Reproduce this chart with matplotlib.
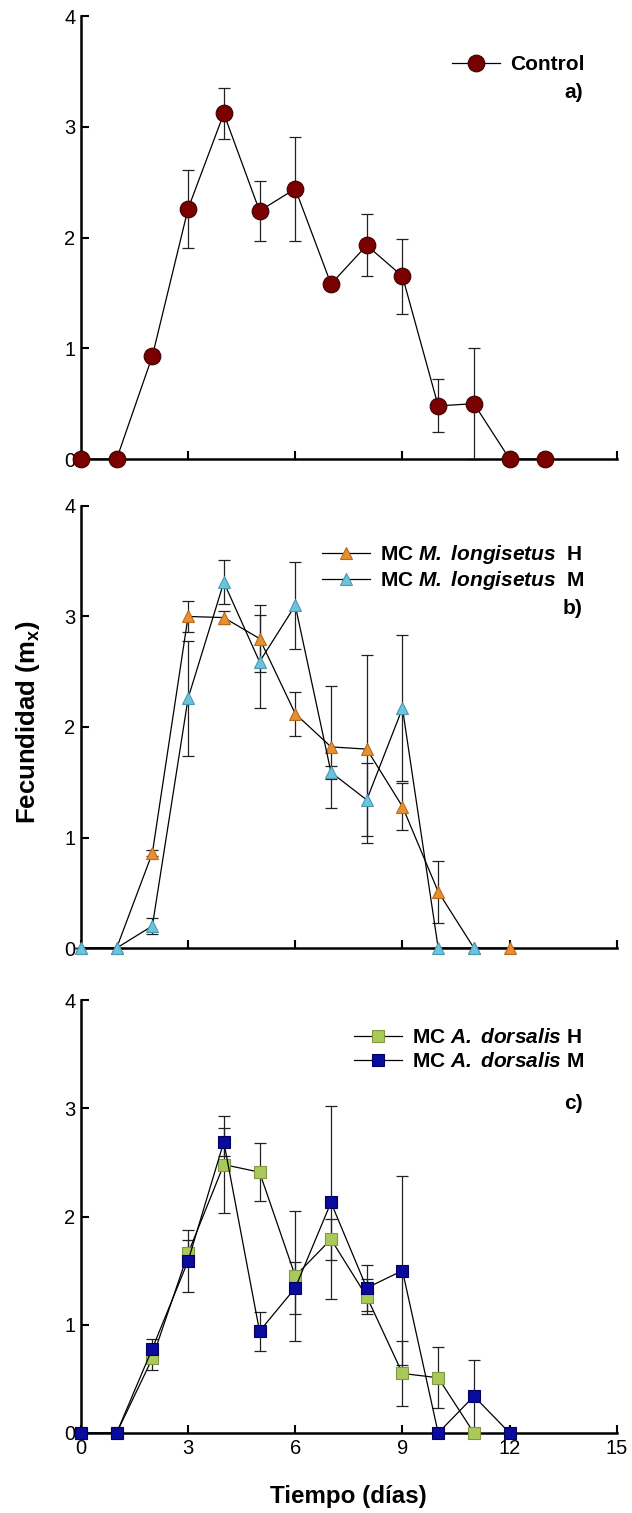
import numpy as np
import matplotlib
matplotlib.use("Agg")
import matplotlib.pyplot as plt

plt.rcParams['font.family'] = ['Liberation Sans', 'DejaVu Sans']
plt.rcParams['mathtext.fontset'] = 'custom'
plt.rcParams['mathtext.rm'] = 'Liberation Sans'
plt.rcParams['mathtext.it'] = 'Liberation Sans:italic'
plt.rcParams['mathtext.bf'] = 'Liberation Sans:bold'
plt.rcParams['mathtext.bfit'] = 'Liberation Sans:bold:italic'

# ---- data ----
days_ctrl = [0, 1, 2, 3, 4, 5, 6, 7, 8, 9, 10, 11, 12, 13]
ctrl = [0, 0, 0.93, 2.26, 3.12, 2.24, 2.44, 1.58, 1.93, 1.65, 0.48, 0.50, 0, 0]
ctrl_err = [0, 0, 0, 0.35, 0.23, 0.27, 0.47, 0, 0.28, 0.34, 0.24, 0.50, 0, 0]

days_ml_h = [0, 1, 2, 3, 4, 5, 6, 7, 8, 9, 10, 11, 12]
ml_h = [0, 0, 0.86, 3.00, 2.99, 2.80, 2.12, 1.82, 1.80, 1.28, 0.51, 0, 0]
ml_h_err = [0, 0, 0.03, 0.14, 0.06, 0.30, 0.20, 0.55, 0.85, 0.21, 0.28, 0, 0]

days_ml_m = [0, 1, 2, 3, 4, 5, 6, 7, 8, 9, 10, 11]
ml_m = [0, 0, 0.20, 2.26, 3.31, 2.59, 3.10, 1.59, 1.34, 2.17, 0, 0]
ml_m_err = [0, 0, 0.07, 0.52, 0.20, 0.42, 0.39, 0.06, 0.33, 0.66, 0, 0]

days_ad_h = [0, 1, 2, 3, 4, 5, 6, 7, 8, 9, 10, 11]
ad_h = [0, 0, 0.69, 1.66, 2.48, 2.41, 1.45, 1.79, 1.26, 0.55, 0.51, 0]
ad_h_err = [0, 0, 0.11, 0.12, 0.45, 0.27, 0.60, 0.19, 0.16, 0.30, 0.28, 0]

days_ad_m = [0, 1, 2, 3, 4, 5, 6, 7, 8, 9, 10, 11, 12]
ad_m = [0, 0, 0.78, 1.59, 2.69, 0.94, 1.34, 2.13, 1.34, 1.50, 0, 0.34, 0]
ad_m_err = [0, 0, 0.09, 0.29, 0.13, 0.18, 0.24, 0.89, 0.21, 0.87, 0, 0.33, 0]

FS_LEG = 15

fig = plt.figure(figsize=(6.32, 15.13), dpi=100)
L, R = 0.128, 0.976
ax_a = fig.add_axes([L, 0.6966, R - L, 0.9894 - 0.6966])
ax_b = fig.add_axes([L, 0.3734, R - L, 0.6656 - 0.3734])
ax_c = fig.add_axes([L, 0.0529, R - L, 0.3390 - 0.0529])


def style(ax, show_x):
    ax.set_xlim(0, 15)
    ax.set_ylim(0, 4)
    ax.spines['top'].set_visible(False)
    ax.spines['right'].set_visible(False)
    for s in ['left', 'bottom']:
        ax.spines[s].set_linewidth(1.8)
    ax.set_xticks([0, 3, 6, 9, 12, 15])
    ax.set_yticks([0, 1, 2, 3, 4])
    ax.tick_params(direction='in', length=6, width=1.5, labelsize=14.5, pad=4)
    if not show_x:
        ax.tick_params(axis='x', labelbottom=False)


def series(ax, x, y, e, marker, fc, ec, ms, label):
    ax.errorbar(x, y, yerr=e, fmt='none', ecolor='#222222', elinewidth=0.9,
                capsize=4, capthick=0.9, zorder=2, clip_on=False)
    ax.plot(x, y, color='black', lw=0.9, marker=marker, markersize=ms,
            markerfacecolor=fc, markeredgecolor=ec, markeredgewidth=0.8,
            label=label, zorder=3, clip_on=False)


def legend(ax, anchor, spacing=0.2):
    ax.legend(loc='upper right', bbox_to_anchor=anchor, frameon=False,
              prop={'weight': 'bold', 'size': FS_LEG}, handlelength=2.3,
              handletextpad=0.5, borderpad=0, borderaxespad=0,
              labelspacing=spacing)


# a) Control
style(ax_a, False)
series(ax_a, days_ctrl, ctrl, ctrl_err, 'o', '#7a0000', '#3a0000', 12, 'Control')
legend(ax_a, (0.94, 0.912))
ax_a.text(0.936, 0.828, 'a)', transform=ax_a.transAxes, ha='right', va='center',
          fontsize=FS_LEG, fontweight='bold')

# b) M. longisetus
style(ax_b, False)
series(ax_b, days_ml_h, ml_h, ml_h_err, '^', '#e8902f', '#b86a20', 8,
       r'MC $\mathbfit{M.}$ $\mathbfit{longisetus}$  H')
series(ax_b, days_ml_m, ml_m, ml_m_err, '^', '#6cc3dc', '#4a9ab5', 8,
       r'MC $\mathbfit{M.}$ $\mathbfit{longisetus}$  M')
legend(ax_b, (0.94, 0.916), 0.15)
ax_b.text(0.936, 0.769, 'b)', transform=ax_b.transAxes, ha='right', va='center',
          fontsize=FS_LEG, fontweight='bold')
ax_b.set_ylabel(r'Fecundidad (m$_{\mathbf{x}}$)', fontsize=18.5, fontweight='bold')
ax_b.yaxis.set_label_coords(-0.072, 0.51)

# c) A. dorsalis
style(ax_c, True)
series(ax_c, days_ad_h, ad_h, ad_h_err, 's', '#a9c95a', '#7f9a3e', 8,
       r'MC $\mathbfit{A.}$ $\mathbfit{dorsalis}$ H')
series(ax_c, days_ad_m, ad_m, ad_m_err, 's', '#0a0a9c', '#000060', 8,
       r'MC $\mathbfit{A.}$ $\mathbfit{dorsalis}$ M')
legend(ax_c, (0.94, 0.935), 0.25)
ax_c.text(0.936, 0.762, 'c)', transform=ax_c.transAxes, ha='right', va='center',
          fontsize=FS_LEG, fontweight='bold')
ax_c.set_xlabel('Tiempo (días)', fontsize=17.4, fontweight='bold', labelpad=20)

fig.savefig('out.png', dpi=100)
